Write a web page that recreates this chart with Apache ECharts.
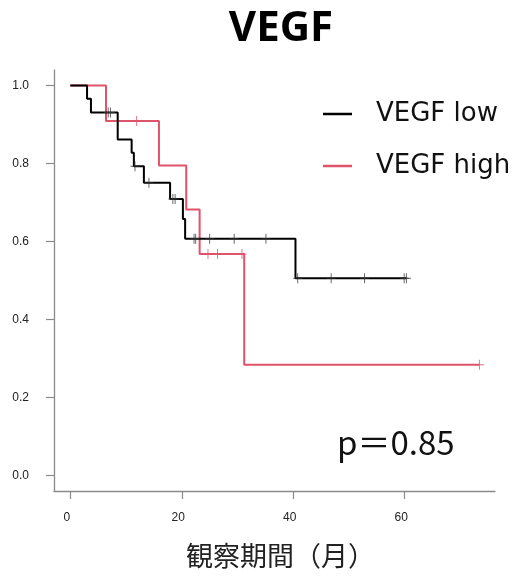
<!DOCTYPE html>
<html>
<head>
<meta charset="utf-8">
<title>VEGF</title>
<script src="https://cdn.jsdelivr.net/npm/echarts@6/dist/echarts.min.js"></script>
<style>
  html, body { margin: 0; padding: 0; background: #fff; }
  #chart { width: 514px; height: 578px; }
</style>
</head>
<body>
<div id="chart"></div>
<script>
// 生存曲线数据
const lowTime = [0, 3.0, 3.7, 8.5, 11.0, 11.4, 13.2, 17.9, 20.2, 20.6, 40.4, 60.3]
const lowSurv = [1.0, 0.966, 0.931, 0.862, 0.828, 0.793, 0.751, 0.709, 0.658, 0.607, 0.506, 0.506]
const lowCensorTime = [6.8, 7.2, 11.6, 14.1, 18.4, 18.8, 22.2, 22.5, 25.0, 29.4, 35.1, 40.8, 46.8, 52.8, 59.9, 60.3]
const lowCensorSurv = [0.931, 0.931, 0.793, 0.751, 0.709, 0.709, 0.607, 0.607, 0.607, 0.607, 0.607, 0.506, 0.506, 0.506, 0.506, 0.506]

const highTime = [0, 6.4, 15.9, 20.8, 23.2, 31.2, 73.4]
const highSurv = [1.0, 0.909, 0.795, 0.682, 0.568, 0.284, 0.284]
const highCensorTime = [11.9, 24.7, 26.4, 30.8, 73.4]
const highCensorSurv = [0.909, 0.568, 0.568, 0.568, 0.284]

const xTicks = [0, 20, 40, 60]
const yTicks = [0, 0.2, 0.4, 0.6, 0.8, 1.0]
const seriesNames = ['VEGF low', 'VEGF high']
const colors = ['#000000', '#DF536B']

const zip = (xs, ys) => xs.map((x, i) => [x, ys[i]])

// censor mark: small "+"
const plusMark = 'path://M4.5,0H5.5V10H4.5Z M0,4.5H10V5.5H0Z'

const chart = echarts.init(document.getElementById('chart'), null, { renderer: 'canvas' })

const axisGray = '#8a8a8a'
const latin = '"Liberation Sans", Arial, sans-serif'
const jp = '"Noto Sans CJK JP", "Noto Sans", sans-serif'

const option = {
  animation: false,
  backgroundColor: '#fff',
  grid: { left: 54, right: 19, top: 70, bottom: 87 },
  legend: {
    orient: 'vertical',
    left: 323,
    top: 99,
    padding: 0,
    itemWidth: 29,
    itemHeight: 2.5,
    itemGap: 22,
    data: seriesNames.map(name => ({ name, icon: 'rect' })),
    textStyle: {
      fontFamily: '"DejaVu Sans", sans-serif',
      fontSize: 26,
      lineHeight: 30,
      color: '#111',
      padding: [0, 0, 0, 19]
    }
  },
  xAxis: {
    type: 'value',
    min: -2.93,
    max: 76.2,
    name: '観察期間（月）',
    nameLocation: 'middle',
    nameGap: 51,
    nameTextStyle: {
      fontFamily: jp,
      fontSize: 27,
      color: '#222',
      padding: [0, 0, 0, 12]
    },
    splitLine: { show: false },
    axisLine: { show: true, onZero: false, lineStyle: { color: axisGray, width: 1.3 } },
    axisTick: { show: true, length: 8, customValues: xTicks, lineStyle: { color: axisGray, width: 1.2 } },
    axisLabel: {
      customValues: xTicks,
      margin: 21,
      fontFamily: latin,
      fontSize: 12,
      color: '#222',
      padding: [0, 7, 0, 0]
    }
  },
  yAxis: {
    type: 'value',
    min: -0.04,
    max: 1.04,
    splitLine: { show: false },
    axisLine: { show: true, onZero: false, lineStyle: { color: axisGray, width: 1.3 } },
    axisTick: { show: true, length: 8, customValues: yTicks, lineStyle: { color: axisGray, width: 1.2 } },
    axisLabel: {
      customValues: yTicks,
      margin: 25,
      fontFamily: latin,
      fontSize: 12,
      color: '#222',
      formatter: v => v.toFixed(1)
    }
  },
  graphic: [
    {
      type: 'text',
      x: 281,
      y: 29,
      style: {
        text: 'VEGF',
        font: 'bold 42px "Noto Sans", sans-serif',
        fill: '#000',
        textAlign: 'center',
        textVerticalAlign: 'middle'
      }
    },
    {
      type: 'text',
      x: 337,
      y: 442,
      style: {
        text: 'p＝0.85',
        font: '33px "Noto Sans CJK JP", sans-serif',
        fill: '#111',
        textAlign: 'left',
        textVerticalAlign: 'middle'
      }
    }
  ],
  series: [
    {
      name: seriesNames[0],
      type: 'line',
      step: 'end',
      symbol: 'none',
      color: colors[0],
      lineStyle: { width: 2, color: colors[0] },
      data: zip(lowTime, lowSurv),
      z: 3
    },
    {
      name: seriesNames[1],
      type: 'line',
      step: 'end',
      symbol: 'none',
      color: colors[1],
      lineStyle: { width: 2, color: colors[1] },
      data: zip(highTime, highSurv),
      z: 2
    },
    {
      name: 'low censored',
      type: 'scatter',
      symbol: plusMark,
      symbolSize: [9, 10],
      itemStyle: { color: '#333' },
      data: zip(lowCensorTime, lowCensorSurv),
      z: 4
    },
    {
      name: 'high censored',
      type: 'scatter',
      symbol: plusMark,
      symbolSize: [9, 10],
      itemStyle: { color: colors[1], opacity: 0.85 },
      data: zip(highCensorTime, highCensorSurv),
      z: 4
    }
  ]
}

chart.setOption(option)
</script>
</body>
</html>
